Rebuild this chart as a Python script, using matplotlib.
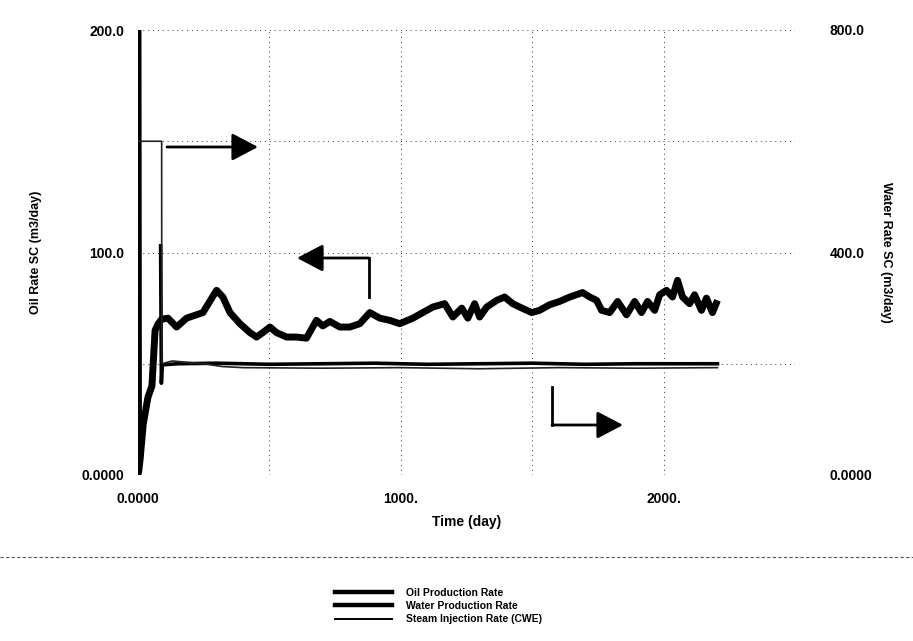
import matplotlib
matplotlib.use("Agg")
import matplotlib.pyplot as plt
from matplotlib.lines import Line2D

plt.rcParams['font.family'] = ['Liberation Sans', 'DejaVu Sans']
plt.rcParams['font.weight'] = 'bold'

# ---- data -------------------------------------------------------------
oil_days = [0, 2, 8, 20, 38, 53, 65, 77, 90, 114, 147, 185, 247, 299, 323, 350,
            388, 426, 451, 475, 502, 527, 565, 603, 641, 679, 703, 730, 768,
            806, 844, 882, 920, 958, 996, 1046, 1084, 1122, 1167, 1198, 1232,
            1255, 1281, 1300, 1327, 1365, 1395, 1426, 1452, 1498, 1528, 1566,
            1604, 1643, 1692, 1719, 1745, 1764, 1795, 1825, 1859, 1890, 1916,
            1939, 1966, 1985, 2011, 2034, 2053, 2072, 2099, 2118, 2144, 2163,
            2186, 2205]
oil_rate = [205, 1, 7, 23, 35, 40, 65, 68, 70, 70.5, 66.5, 70.5, 73, 83, 80, 73,
            68, 64, 62, 64, 66.5, 64, 62, 62, 61.5, 69.5, 67, 69, 66.5,
            66.5, 68, 73, 70.5, 69.5, 68, 70.5, 73, 75.5, 77, 71, 75,
            70.5, 77, 71, 75.5, 78.5, 80, 77, 75.5, 73, 74, 76.5,
            78, 80, 82, 80, 78.5, 74, 73, 78, 72, 78, 73,
            78, 74, 81, 83, 80, 87.5, 80, 77, 81, 74, 79.5,
            73, 78.5]

water_days = [86, 89, 92, 150, 300, 500, 700, 900, 1100, 1300, 1500, 1700,
              1900, 2100, 2205]
water_rate = [412, 165, 198, 200, 201, 199, 200, 201, 199, 200, 201, 199,
              200, 200, 200]

steam_days = [0, 90, 90.5, 130, 250, 320, 400, 700, 1000, 1300, 1600, 1900, 2205]
steam_rate = [600, 600, 200, 205, 200, 195, 193, 192, 193, 191, 193, 192, 193]

x_ticks = [0, 1000, 2000]
x_tick_labels = ['0.0000', '1000.', '2000.']
oil_ticks = [0, 100, 200]
oil_tick_labels = ['0.0000', '100.0', '200.0']
water_ticks = [0, 400, 800]
water_tick_labels = ['0.0000', '400.0', '800.0']

# ---- figure -----------------------------------------------------------
W, H = 913, 641
fig = plt.figure(figsize=(W / 100, H / 100), dpi=100)
L, R, B, T = 138, 795, 475, 30
ax = fig.add_axes([L / W, 1 - B / H, (R - L) / W, (B - T) / H])
ax2 = ax.twinx()

ax.set_xlim(0, 2500)
ax.set_ylim(0, 200)
ax2.set_ylim(0, 800)

ax.set_xticks(x_ticks)
ax.set_xticklabels(x_tick_labels)
ax.set_yticks(oil_ticks)
ax.set_yticklabels(oil_tick_labels)
ax2.set_yticks(water_ticks)
ax2.set_yticklabels(water_tick_labels)

# dotted grid every 500 days and every 50 m3/day, including the frame edges
grid_kw = dict(color='#333333', lw=0.7, ls=(0, (1, 4)), zorder=0)
for gx in range(0, 2501, 500):
    ax.axvline(gx, **grid_kw)
for gy in range(0, 201, 50):
    ax.axhline(gy, **grid_kw)

for a in (ax, ax2):
    for s in a.spines.values():
        s.set_visible(False)
    a.tick_params(which='both', length=0, labelsize=10)
ax.tick_params(axis='y', pad=10)
ax.tick_params(axis='x', pad=12)
ax2.tick_params(axis='y', pad=25)

ax.set_xlabel('Time (day)', fontsize=10, fontweight='bold', labelpad=7)
ax.set_ylabel('Oil Rate SC (m3/day)', fontsize=9, fontweight='bold', labelpad=28)
ax2.set_ylabel('Water Rate SC (m3/day)', fontsize=9, fontweight='bold',
               rotation=270, labelpad=14)

# ---- series -----------------------------------------------------------
l_oil, = ax.plot(oil_days, oil_rate, color='black', lw=5.0,
                 solid_joinstyle='round', solid_capstyle='butt', zorder=4)
l_water, = ax2.plot(water_days, water_rate, color='black', lw=2.6, zorder=3)
l_steam, = ax2.plot(steam_days, steam_rate, color='#222222', lw=1.2, zorder=3)


# ---- direction arrows -------------------------------------------------
def fx(px):
    return (px - L) / (R - L)


def fy(py):
    return (B - py) / (B - T)


arrow_kw = dict(arrowstyle='-|>,head_length=0.8,head_width=0.42',
                mutation_scale=20, lw=2.0, color='black',
                shrinkA=0, shrinkB=0)
ax.annotate('', xy=(fx(258), fy(147)), xytext=(fx(167), fy(147)),
            xycoords='axes fraction', textcoords='axes fraction',
            arrowprops=arrow_kw)
ax.plot([fx(369), fx(369)], [fy(297), fy(258)], transform=ax.transAxes,
        color='black', lw=2.0, solid_capstyle='projecting')
ax.annotate('', xy=(fx(297), fy(258)), xytext=(fx(369), fy(258)),
            xycoords='axes fraction', textcoords='axes fraction',
            arrowprops=arrow_kw)
ax.plot([fx(552), fx(552)], [fy(387), fy(425)], transform=ax.transAxes,
        color='black', lw=2.0, solid_capstyle='projecting')
ax.annotate('', xy=(fx(623), fy(425)), xytext=(fx(552), fy(425)),
            xycoords='axes fraction', textcoords='axes fraction',
            arrowprops=arrow_kw)

# separator between plot and legend
fig.add_artist(Line2D([0, 1], [1 - 557 / H] * 2, transform=fig.transFigure,
                      color='#555555', lw=0.8, ls=(0, (3, 2))))

# ---- legend -----------------------------------------------------------
h_oil = Line2D([], [], color='black', lw=3.2)
h_water = Line2D([], [], color='black', lw=3.2)
h_steam = Line2D([], [], color='black', lw=1.4)
fig.legend([h_oil, h_water, h_steam],
           ['Oil Production Rate', 'Water Production Rate',
            'Steam Injection Rate (CWE)'],
           loc='upper left', bbox_to_anchor=(335 / W, 1 - 588 / H),
           frameon=False, handlelength=5.5, handletextpad=1.3,
           labelspacing=0.3, borderpad=0, borderaxespad=0,
           prop={'weight': 'bold', 'size': 7.5})

fig.savefig('out.png', dpi=100, facecolor='white')
